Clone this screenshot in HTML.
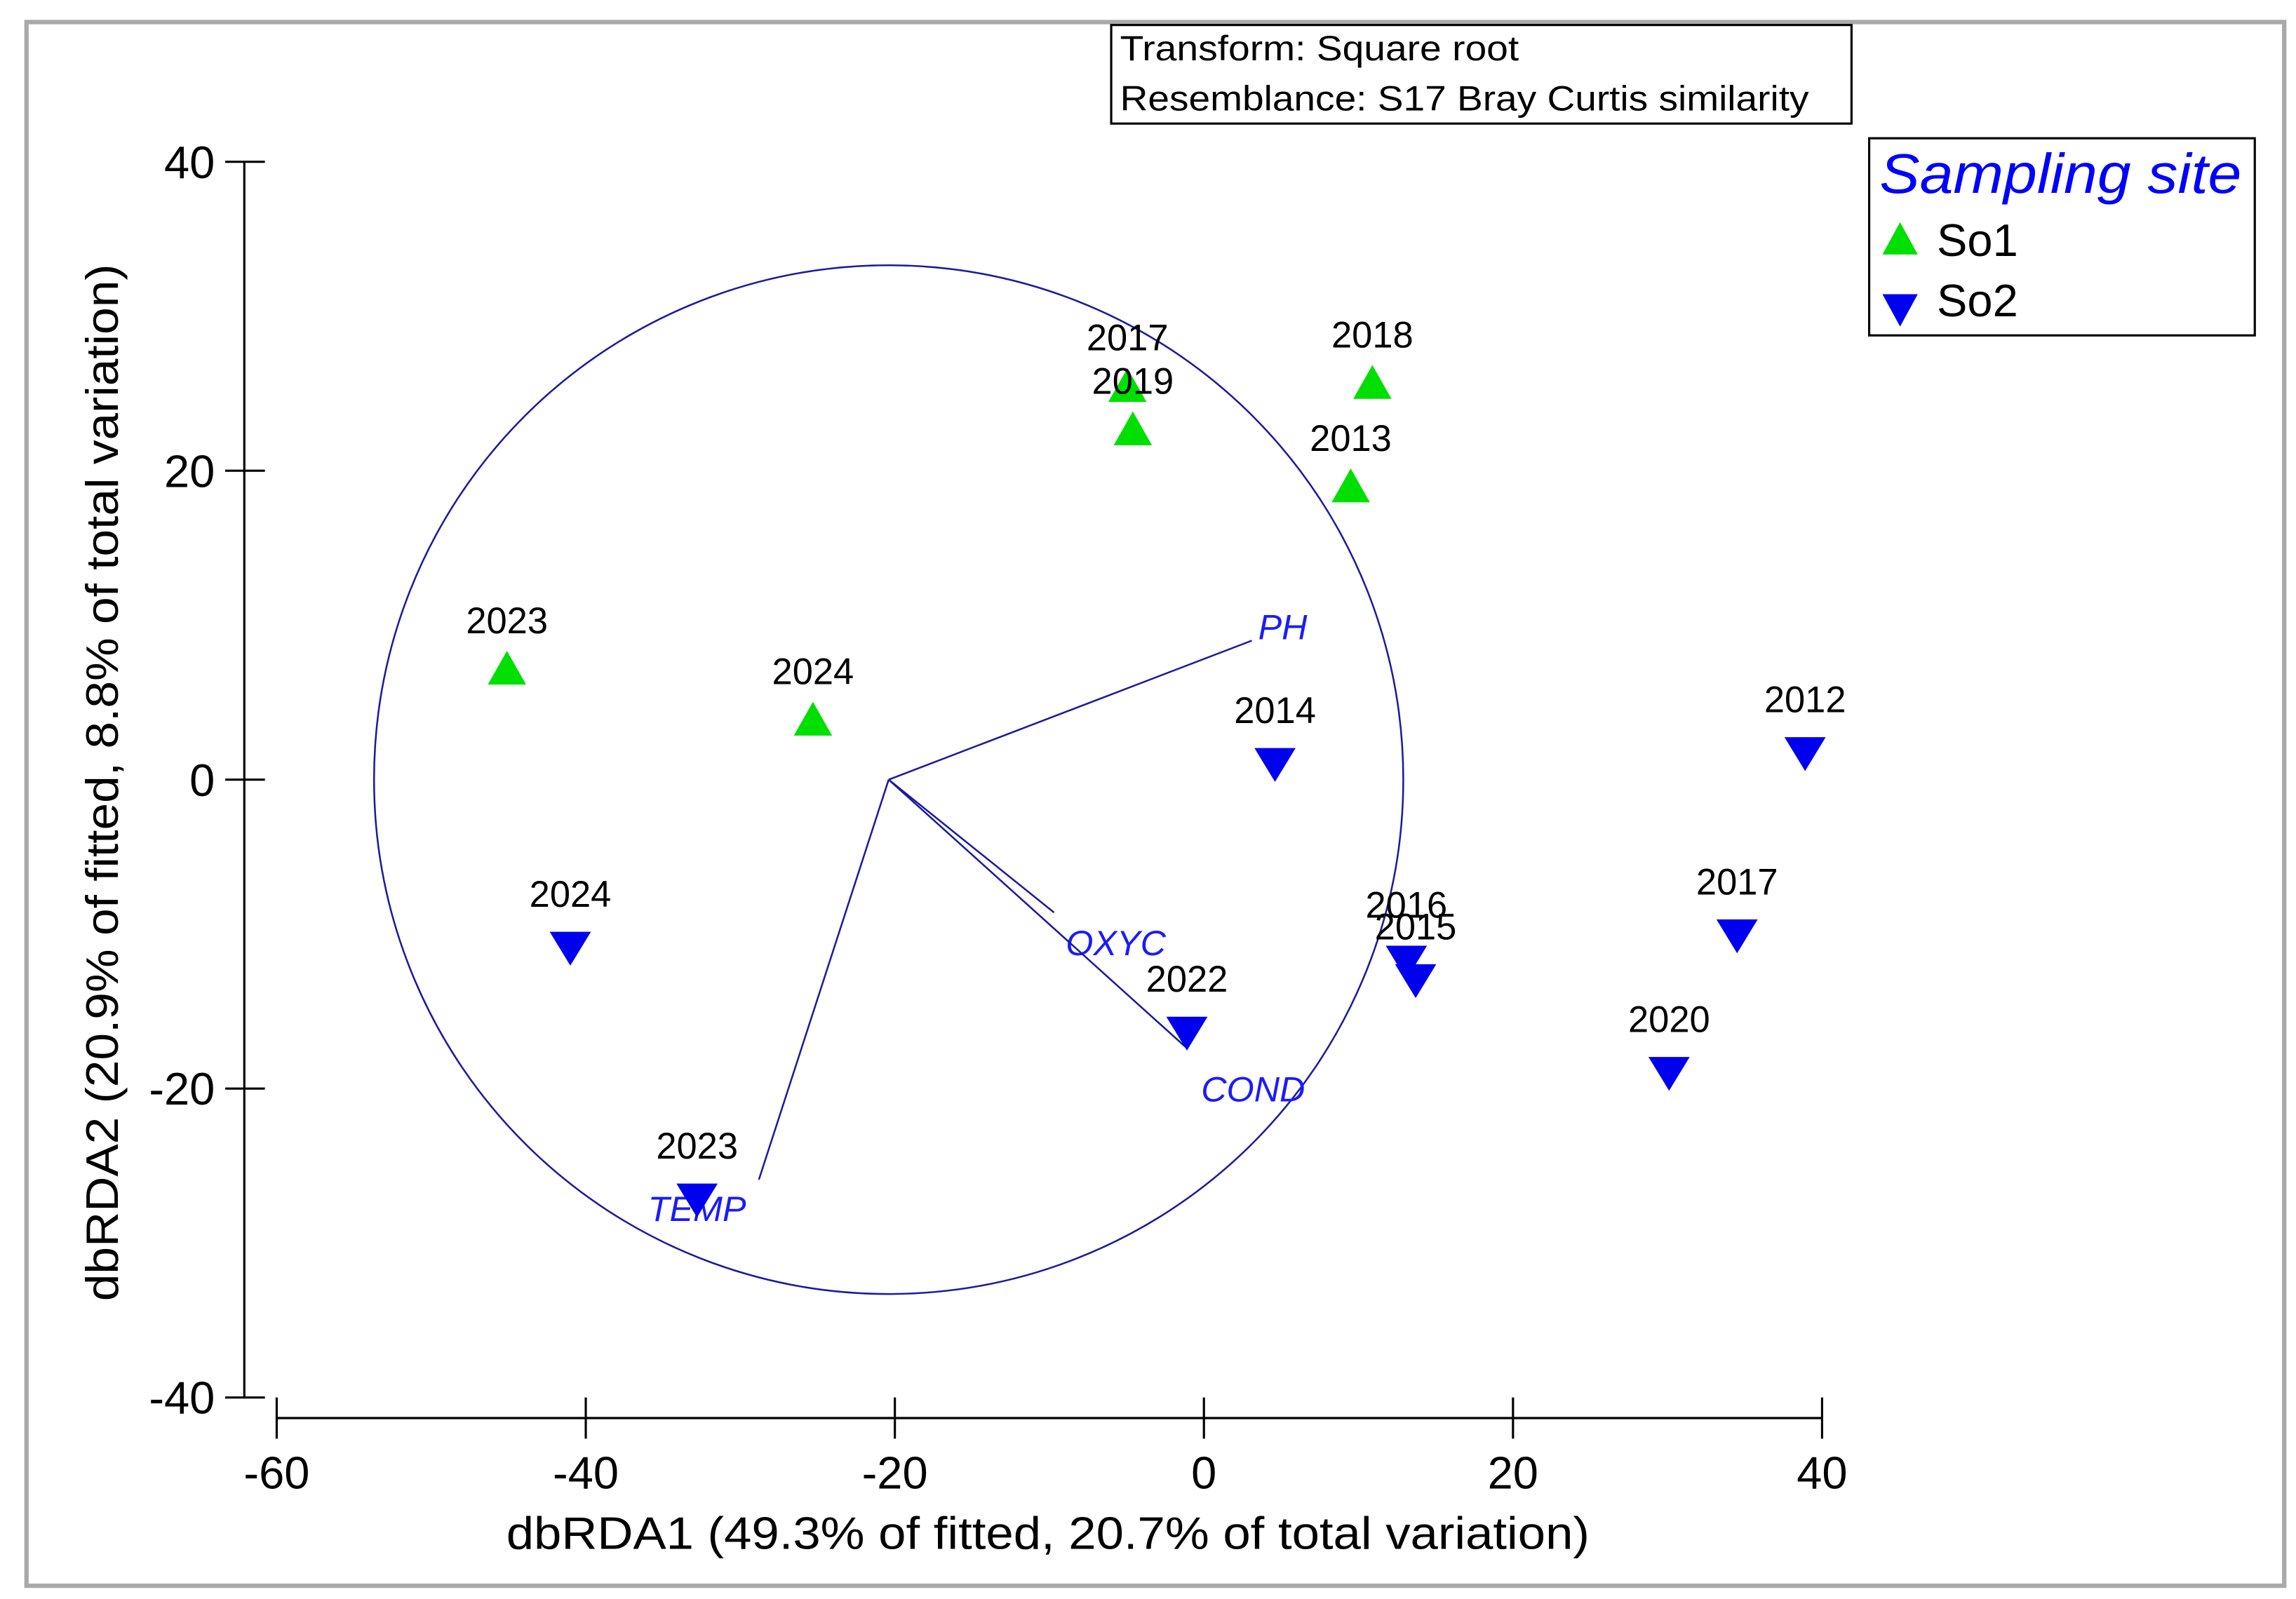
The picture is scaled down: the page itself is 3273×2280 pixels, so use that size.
<!DOCTYPE html>
<html><head><meta charset="utf-8"><style>
html,body{margin:0;padding:0;background:#fff;}
svg{display:block;}
text{font-family:"Liberation Sans",Arial,sans-serif;}
</style></head><body>
<svg id="chart" width="3273" height="2280" viewBox="0 0 1560 1087" preserveAspectRatio="none" xmlns="http://www.w3.org/2000/svg">
<rect x="0" y="0" width="1560" height="1087" fill="#fff"/>
<rect x="18" y="15" width="1534" height="1063" fill="none" stroke="#a9a9a9" stroke-width="3"/>
<g>
<rect x="755" y="17" width="503" height="67" fill="#fff" stroke="#000" stroke-width="1.5"/>
<text x="761" y="41" font-size="24" textLength="271" lengthAdjust="spacingAndGlyphs">Transform: Square root</text>
<text x="761" y="75" font-size="24" textLength="468" lengthAdjust="spacingAndGlyphs">Resemblance: S17 Bray Curtis similarity</text>
</g>
<g>
<rect x="1270" y="94" width="262" height="134" fill="#fff" stroke="#000" stroke-width="1.5"/>
<text x="1277" y="131" font-size="38" font-style="italic" fill="#0000ff" textLength="246" lengthAdjust="spacingAndGlyphs">Sampling site</text>
<polygon points="1291,151 1303,173 1279,173" fill="#00e000"/>
<text x="1316" y="174" font-size="31">So1</text>
<polygon points="1279,200 1303,200 1291,222" fill="#0000ee"/>
<text x="1316" y="215" font-size="31">So2</text>
</g>
<g id="axes"></g>
<g id="plot"></g>
<text x="712" y="1053" font-size="31" text-anchor="middle" textLength="736" lengthAdjust="spacingAndGlyphs">dbRDA1 (49.3% of fitted, 20.7% of total variation)</text>
<text transform="translate(80,532) rotate(-90)" font-size="31" text-anchor="middle" textLength="705" lengthAdjust="spacingAndGlyphs">dbRDA2 (20.9% of fitted, 8.8% of total variation)</text>
</svg>
<script>
const xTicks = [-60, -40, -20, 0, 20, 40];
const yTicks = [40, 20, 0, -20, -40];
const so1Labels = ["2017", "2019", "2018", "2013", "2023", "2024"];
const so1X = [-4.95, -4.6, 10.9, 9.5, -45.1, -25.3];
const so1Y = [25.5, 22.7, 25.7, 19.0, 7.2, 3.9];
const so2Labels = ["2014", "2012", "2024", "2016", "2015", "2017", "2022", "2020", "2023"];
const so2X = [4.6, 38.9, -41.0, 13.1, 13.7, 34.5, -1.1, 30.1, -32.8];
const so2Y = [1.0, 1.7, -10.9, -11.8, -13.0, -10.1, -16.4, -19.0, -27.2];
const vecNames = ["PH", "OXYC", "COND", "TEMP"];
const vecX = [23.5, 10.7, 19.2, -8.4];
const vecY = [9.0, -8.6, -17.3, -25.9];
const circleCenterX = -20.4;
const circleCenterY = 0;
const circleRadius = 33.3;

const NS = "http://www.w3.org/2000/svg";
const sx = v => 818 + v * 10.5;
const sy = v => 530 - v * 10.5;
function mk(tag, attrs, parent, txt) {
  const e = document.createElementNS(NS, tag);
  for (const k in attrs) e.setAttribute(k, attrs[k]);
  if (txt !== undefined) e.textContent = txt;
  parent.appendChild(e);
  return e;
}
const axes = document.getElementById('axes');
const plot = document.getElementById('plot');

let yl = mk('line', {x1:166, y1:sy(40), x2:166, y2:sy(-40), stroke:'#000', 'stroke-width':1.5}, axes);


let xl = mk('line', {x1:sx(-60), y1:964, x2:sx(40), y2:964, stroke:'#000', 'stroke-width':1.5}, axes);


yTicks.forEach(t => {
  const l = mk('line', {x1:153, y1:sy(t), x2:180, y2:sy(t), stroke:'#000', 'stroke-width':1.5}, axes);
  
  
  const tx = mk('text', {x:146, y:sy(t)+11, 'font-size':31, 'text-anchor':'end'}, axes, String(t));
  
  
});
xTicks.forEach(t => {
  const l = mk('line', {x1:sx(t), y1:950, x2:sx(t), y2:978, stroke:'#000', 'stroke-width':1.5}, axes);
  
  
  const tx = mk('text', {x:sx(t), y:1012, 'font-size':31, 'text-anchor':'middle'}, axes, String(t));
  
  
});

const circ = mk('ellipse', {cx:sx(circleCenterX), cy:sy(circleCenterY), rx:circleRadius*10.5, ry:circleRadius*10.5, fill:'none', stroke:'#1a1aa0', 'stroke-width':1.2}, plot);



const labOff = {PH:[21,-9], OXYC:[42,21], COND:[46,29], TEMP:[-42,20]};
vecNames.forEach((n, i) => {
  const x0 = sx(circleCenterX), y0 = sy(circleCenterY);
  const x1 = sx(circleCenterX + vecX[i]), y1 = sy(circleCenterY + vecY[i]);
  const l = mk('line', {x1:x0, y1:y0, x2:x1, y2:y1, stroke:'#1a1aa0', 'stroke-width':1.2}, plot);
  
  
  const o = labOff[n];
  const t = mk('text', {x:x1 + o[0], y:y1 + o[1] + 8, 'font-size':24, 'font-style':'italic', fill:'#1a1aff', 'text-anchor':'middle'}, plot, n);
  
  
});

so1Labels.forEach((lab, i) => {
  const x = sx(so1X[i]), y = sy(so1Y[i]);
  const p = mk('polygon', {points:`${x},${y-12} ${x+13},${y+11} ${x-13},${y+11}`, fill:'#00e000'}, plot);
  
  
  const t = mk('text', {x:x, y:y-24, 'font-size':25, 'text-anchor':'middle'}, plot, lab);
  
  
});
const so2LabOff = {"2016":[0,-30], "2015":[0,-28]};
so2Labels.forEach((lab, i) => {
  const x = sx(so2X[i]), y = sy(so2Y[i]);
  const p = mk('polygon', {points:`${x-14},${y-11} ${x+14},${y-11} ${x},${y+12}`, fill:'#0000ee'}, plot);
  
  
  const o = so2LabOff[lab] || [0,-28];
  const t = mk('text', {x:x + o[0], y:y + o[1], 'font-size':25, 'text-anchor':'middle'}, plot, lab);
  
  
});
</script>
</body></html>
